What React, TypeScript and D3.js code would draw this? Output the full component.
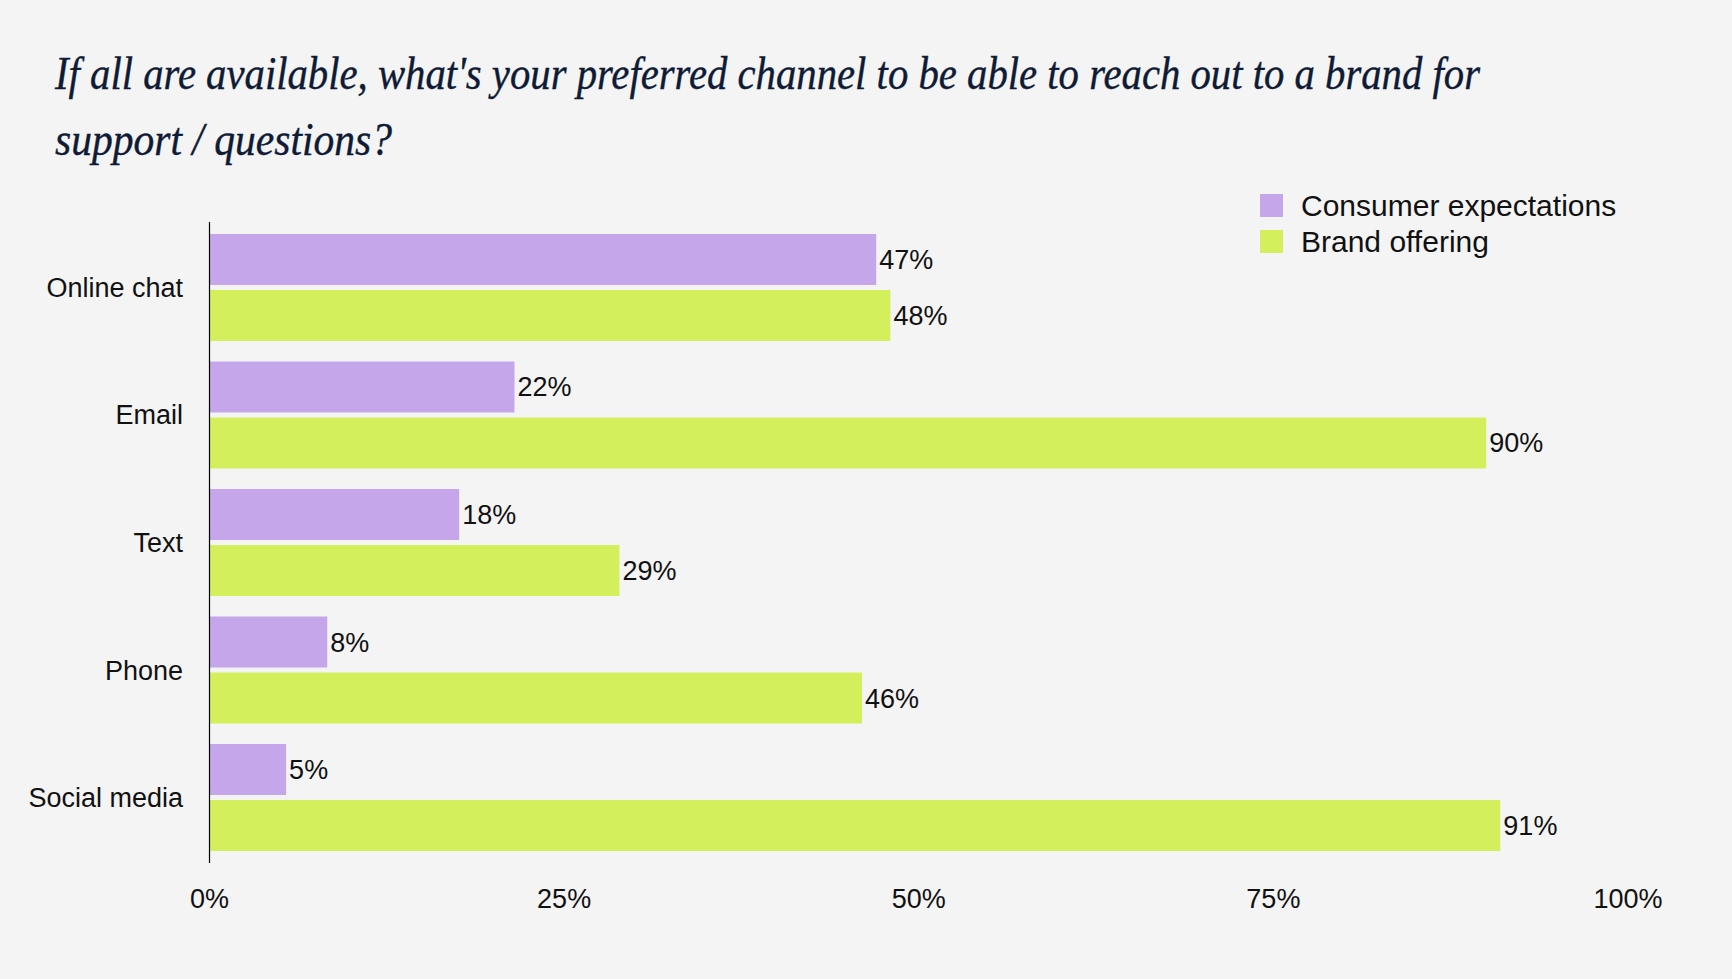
import React from "react";
import * as d3 from "d3";

const categories = ["Online chat", "Email", "Text", "Phone", "Social media"];
const seriesNames = ["Consumer expectations", "Brand offering"];
const consumerValues = [47.0, 21.5, 17.6, 8.3, 5.4];
const brandValues = [48.0, 90.0, 28.9, 46.0, 91.0];
const xTicks = [0, 25, 50, 75, 100];
const titleLines = [
  "If all are available, what's your preferred channel to be able to reach out to a brand for",
  "support / questions?",
];

const W = 1732;
const H = 979;
const BG = "#f4f4f4";
const COLORS = ["#c5a6ea", "#d4ef5c"];
const TEXT = "#111111";
const TITLE = "#0f1b35";
const SANS = "'Liberation Sans', Arial, sans-serif";

export default function App() {
  const x = d3.scaleLinear().domain([0, 100]).range([209.5, 1628]);
  const y = d3
    .scaleBand<string>()
    .domain(categories)
    .range([222, 863])
    .paddingInner(0.161)
    .paddingOuter(0.094);
  const inner = d3
    .scaleBand<string>()
    .domain(seriesNames)
    .range([0, y.bandwidth()])
    .paddingInner(0.09)
    .paddingOuter(0);

  const series = [consumerValues, brandValues];

  return (
    <svg
      width={W}
      height={H}
      style={{ position: "absolute", left: 0, top: 0, display: "block" }}
    >
      <rect x={0} y={0} width={W} height={H} fill={BG} />

      {/* Title */}
      <text
        x={55}
        y={89}
        fontFamily="'Liberation Serif', 'DejaVu Serif', serif"
        fontStyle="italic"
        fontSize={47}
        fill={TITLE}
        stroke={TITLE}
        strokeWidth={0.4}
        textLength={1425}
        lengthAdjust="spacingAndGlyphs"
      >
        {titleLines[0]}
      </text>
      <text
        x={55}
        y={155}
        fontFamily="'Liberation Serif', 'DejaVu Serif', serif"
        fontStyle="italic"
        fontSize={47}
        fill={TITLE}
        stroke={TITLE}
        strokeWidth={0.4}
        textLength={337}
        lengthAdjust="spacingAndGlyphs"
      >
        {titleLines[1]}
      </text>

      {/* Legend */}
      {seriesNames.map((name, i) => (
        <g key={name} transform={`translate(1260, ${194 + i * 36})`}>
          <rect x={0} y={0} width={23} height={23} fill={COLORS[i]} />
          <text x={41} y={22} fontFamily={SANS} fontSize={30} fill={TEXT}>
            {name}
          </text>
        </g>
      ))}

      {/* Bars */}
      {categories.map((cat, ci) => (
        <g key={cat} transform={`translate(0, ${y(cat)})`}>
          {series.map((vals, si) => {
            const by = inner(seriesNames[si]) as number;
            const bh = inner.bandwidth();
            const v = vals[ci];
            return (
              <g key={si}>
                <rect
                  x={x(0)}
                  y={by}
                  width={x(v) - x(0)}
                  height={bh}
                  fill={COLORS[si]}
                />
                <text
                  x={x(v) + 3}
                  y={by + bh / 2 + 9.5}
                  fontFamily={SANS}
                  fontSize={27}
                  fill={TEXT}
                >
                  {Math.round(v)}%
                </text>
              </g>
            );
          })}
          <text
            x={183}
            y={y.bandwidth() / 2 + 9.5}
            textAnchor="end"
            fontFamily={SANS}
            fontSize={27}
            fill={TEXT}
          >
            {cat}
          </text>
        </g>
      ))}

      {/* Y axis line */}
      <line
        x1={x(0)}
        x2={x(0)}
        y1={222}
        y2={863}
        stroke="#000"
        strokeWidth={1.2}
      />

      {/* X tick labels */}
      {xTicks.map((t) => (
        <text
          key={t}
          x={x(t)}
          y={908}
          textAnchor="middle"
          fontFamily={SANS}
          fontSize={27}
          fill={TEXT}
        >
          {t}%
        </text>
      ))}
    </svg>
  );
}
